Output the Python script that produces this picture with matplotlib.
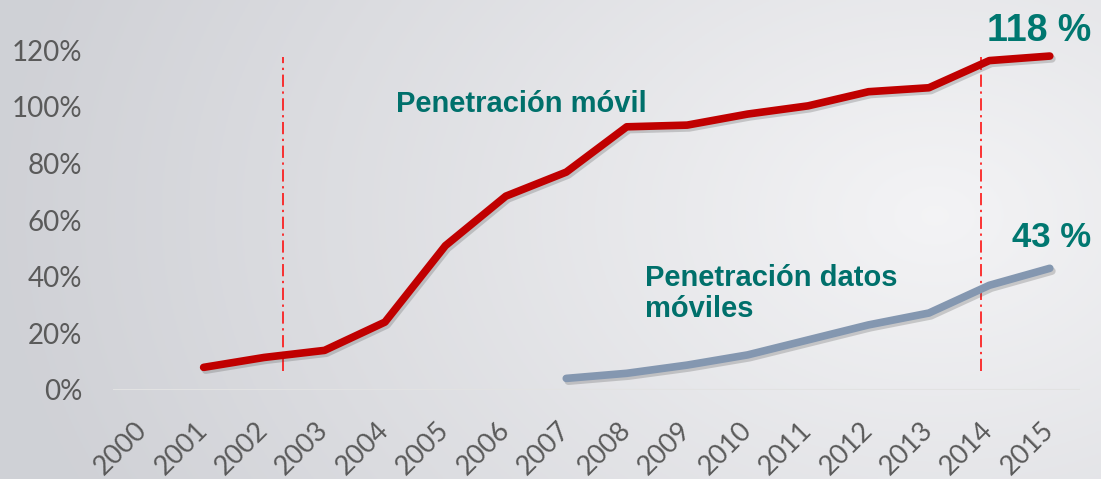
import numpy as np
import matplotlib
matplotlib.use("Agg")
import matplotlib.pyplot as plt
import matplotlib.patheffects as pe

# ---- data ----
years = [str(y) for y in range(2000, 2016)]
movil_years = list(range(2001, 2016))
movil_pct = [8, 11.5, 14, 24, 51, 68.5, 77, 93, 93.6, 97.5, 100.4, 105.4, 106.8, 116.4, 118]
datos_years = list(range(2007, 2016))
datos_pct = [4.1, 5.9, 8.8, 12.4, 17.7, 23, 27.2, 37, 43]
yticks = [0, 20, 40, 60, 80, 100, 120]
ytick_labels = ["0%", "20%", "40%", "60%", "80%", "100%", "120%"]
label_movil = "Penetración móvil"
label_datos = "Penetración datos\nmóviles"
end_movil = "118 %"
end_datos = "43 %"
marker_lines = [2002.31, 2013.87]

W, H = 1101, 479
fig = plt.figure(figsize=(W / 100, H / 100), dpi=100)

# background radial gradient
bg = fig.add_axes([0, 0, 1, 1], zorder=-10)
xx, yy = np.meshgrid(np.linspace(0, 1, 400), np.linspace(0, 1, 200))
cx, cy = 0.85, 0.45
r = np.sqrt(((xx - cx) * 1.0) ** 2 + ((yy - cy) * 0.6) ** 2)
r = np.clip(r / 0.85, 0, 1)
c_in = np.array([0.955, 0.955, 0.962])
c_out = np.array([0.815, 0.82, 0.84])
img = c_in[None, None, :] * (1 - r[..., None]) + c_out[None, None, :] * r[..., None]
bg.imshow(img, aspect="auto", extent=[0, 1, 0, 1], origin="upper")
bg.axis("off")

# main axes
left = 113 / W
right = 1080 / W
bottom = (H - 390) / H
ymax = 130
px_per_pct = 2.83
height = ymax * px_per_pct / H
ax = fig.add_axes([left, bottom, right - left, height])
ax.set_facecolor("none")

x_index = {y: i for i, y in enumerate(range(2000, 2016))}
mx = [x_index[y] for y in movil_years]
dx = [x_index[y] for y in datos_years]

shadow = [pe.SimpleLineShadow(offset=(1.5, -2), shadow_color="#505050", alpha=0.25), pe.Normal()]
ax.plot(mx, movil_pct, color="#c00000", lw=5.5, solid_capstyle="round", solid_joinstyle="round",
        path_effects=shadow, zorder=3)
ax.plot(dx, datos_pct, color="#8497b0", lw=5.5, solid_capstyle="round", solid_joinstyle="round",
        path_effects=shadow, zorder=3)

for xv in marker_lines:
    ax.plot([xv - 2000, xv - 2000], [6.8, 117.5], color="#ff0000", lw=1.1,
            linestyle=(0, (8, 3, 1.5, 3)), zorder=2)

ax.set_xlim(-0.5, 15.5)
ax.set_ylim(0, ymax)
ax.axhline(0, color="#e2e2e2", lw=2.2, zorder=1)
for s in ax.spines.values():
    s.set_visible(False)

tick_font = ["Lato", "DejaVu Sans"]
ax.set_yticks(yticks)
ax.set_yticklabels(ytick_labels, fontsize=20, color="#5a5a5a", family=tick_font)
ax.set_xticks(range(len(years)))
ax.set_xticklabels(years, fontsize=19.5, color="#5a5a5a", family=tick_font,
                   rotation=45, ha="right", va="center", rotation_mode="anchor")
ax.tick_params(axis="y", length=0, pad=22)
ax.tick_params(axis="x", length=0, pad=26)

teal = "#00706b"
bold_font = ["Liberation Sans", "DejaVu Sans"]
fig.text(396 / W, (H - 111.7) / H, label_movil, fontsize=21, fontweight="bold", color=teal,
         family=bold_font, ha="left", va="baseline")
fig.text(645 / W, (H - 316.7) / H, label_datos, fontsize=21, fontweight="bold", color=teal,
         family=bold_font, ha="left", va="baseline", linespacing=1.1)
fig.text(987 / W, (H - 40.7) / H, end_movil, fontsize=27, fontweight="bold", color="#007770",
         family=bold_font, ha="left", va="baseline")
fig.text(1012 / W, (H - 247) / H, end_datos, fontsize=25, fontweight="bold", color="#007770",
         family=bold_font, ha="left", va="baseline")

fig.savefig("out.png", dpi=100)
